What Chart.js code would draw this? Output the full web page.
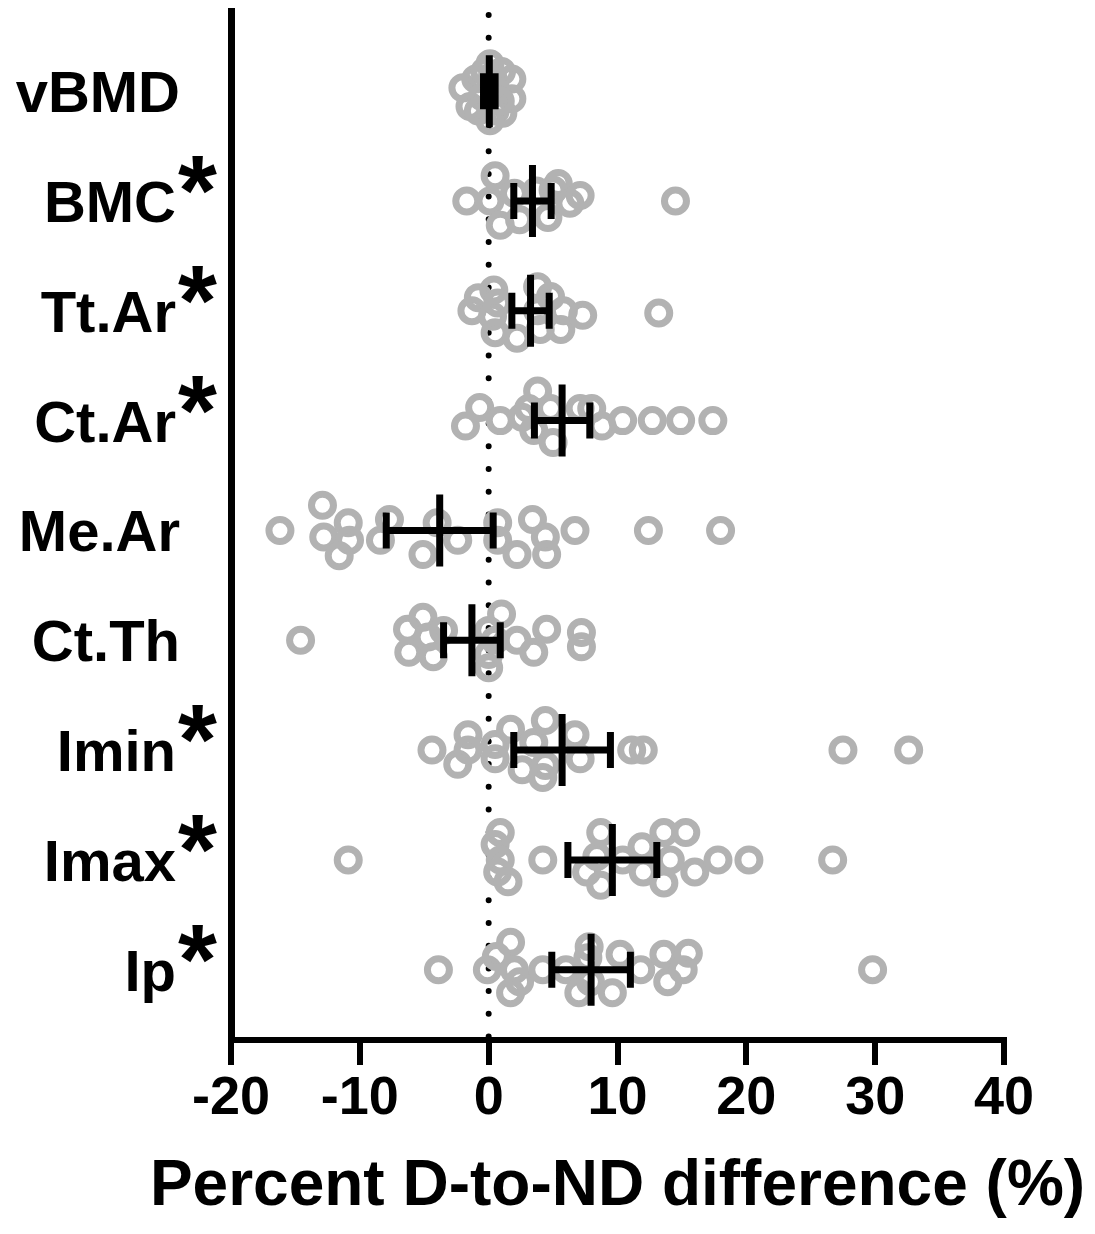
<!DOCTYPE html>
<html>
<head>
<meta charset="utf-8">
<script src="https://cdn.jsdelivr.net/npm/chart.js@4.4.1/dist/chart.umd.min.js"></script>
<style>
  html, body { margin: 0; padding: 0; background: #fff; }
  #wrap { width: 1095px; height: 1234px; }
</style>
</head>
<body>
<div id="wrap"><canvas id="chart"></canvas></div>
<script>
// rows, top to bottom
const categories = ['vBMD', 'BMC', 'Tt.Ar', 'Ct.Ar', 'Me.Ar', 'Ct.Th', 'Imin', 'Imax', 'Ip'];
const starred = [false, true, true, true, false, false, true, true, true];

// mean and error (half-width of bar), %
const means = [0.05, 3.4, 3.25, 5.7, -3.8, -1.3, 5.7, 9.6, 7.95];
const errors = [0.45, 1.45, 1.45, 2.15, 4.15, 2.2, 3.75, 3.45, 3.05];

// individual differences: [value %, swarm offset within the row]
const vBMD = [[-2.0,-0.03],[-1.45,0.14],[-1.0,-0.11],[-0.5,0.05],[0.1,-0.25],[0.3,-0.14],[0.5,0.18],[0.1,0.27],
  [1.0,-0.18],[1.8,-0.11],[1.8,0.07],[1.1,0.2],[-0.8,0.18],[0.6,0],[-0.3,-0.18],[0.9,0.09]];
const BMC = [[-1.7,0],[0.1,0],[0.5,-0.23],[0.9,0.22],[2.4,0.17],[2.0,-0.07],[3.7,-0.09],[5.4,-0.16],[4.6,0.15],
  [5.0,-0.1],[6.3,0.02],[7.1,-0.05],[14.5,0]];
const TtAr = [[-1.3,0],[-0.8,-0.12],[0.3,0.05],[0.4,-0.19],[0.7,-0.07],[0.5,0.2],[2.2,0.25],[3.8,-0.22],[3.8,0],
  [4.8,-0.13],[5.8,0],[5.6,0.17],[4.0,0.17],[7.3,0.04],[13.2,0.02]];
const CtAr = [[-1.8,0.05],[-0.7,-0.12],[0.9,0],[2.6,-0.03],[3.1,-0.11],[3.8,-0.27],[3.5,0.09],[5.0,0.2],[4.8,-0.11],
  [7.1,-0.11],[8.0,-0.11],[8.8,0.05],[10.4,0],[12.7,0],[14.9,0],[17.4,0]];
const MeAr = [[-16.2,0],[-12.9,-0.23],[-12.8,0.06],[-10.9,-0.07],[-10.8,0.09],[-11.6,0.23],[-8.4,0.09],[-7.7,-0.1],
  [-5.1,0.22],[-4.0,-0.07],[-2.4,0.09],[0.7,-0.07],[0.7,0.09],[2.2,0.22],[3.4,-0.1],[4.4,0.06],[4.5,0.22],
  [6.7,0],[12.4,0],[18.0,0]];
const CtTh = [[-14.6,0],[-6.3,-0.1],[-6.2,0.11],[-5.1,-0.21],[-4.7,-0.03],[-4.3,0.15],[-3.5,-0.09],[0.0,-0.09],
  [0.0,0.13],[0.0,0.25],[1.0,-0.24],[0.5,0],[2.2,0],[3.5,0.11],[4.5,-0.1],[7.2,-0.07],[7.2,0.06]];
const Imin = [[-4.4,0],[-2.4,0.13],[-1.6,-0.14],[-1.6,0],[0.5,-0.05],[0.5,0.08],[1.7,-0.19],[2.6,0.18],[3.5,-0.07],
  [4.4,-0.27],[4.4,0.14],[4.2,0.25],[6.7,-0.14],[7.1,0.08],[11.1,0],[12.0,0],[27.5,0],[32.6,0]];
const Imax = [[-10.9,0],[0.9,-0.25],[0.5,-0.14],[0.9,0],[0.7,0.11],[1.5,0.2],[4.2,0],[7.6,0.11],[8.4,-0.03],
  [8.7,-0.25],[8.7,0.23],[10.4,0],[11.9,-0.12],[12.0,0.11],[13.6,-0.25],[13.6,0.21],[14.1,0],[15.3,-0.25],
  [16.0,0.11],[17.8,0],[20.2,0],[26.7,0]];
const Ip = [[-3.9,0],[-0.1,0],[1.7,-0.25],[0.6,-0.12],[2.0,0],[1.7,0.21],[2.4,0.11],[4.2,0],[6.0,0],[7.0,0.21],
  [7.8,-0.21],[7.7,-0.11],[7.9,0.11],[9.6,0.21],[10.2,-0.14],[11.8,0],[13.6,-0.14],[13.9,0.11],[15.1,0],
  [15.5,-0.15],[29.8,0]];

const rows = [vBMD, BMC, TtAr, CtAr, MeAr, CtTh, Imin, Imax, Ip];
const xTicks = [-20, -10, 0, 10, 20, 30, 40];
const xTitle = 'Percent D-to-ND difference (%)';

const FONT = "'Liberation Sans', Arial, Helvetica, sans-serif";
const GREY = '#b2b2b2';

const datasets = rows.map((r, i) => ({
  label: categories[i],
  data: r.map(p => ({ x: p[0], y: i + p[1] })),
  pointRadius: 11,
  pointHoverRadius: 11,
  pointBorderWidth: 7,
  pointBorderColor: GREY,
  pointBackgroundColor: 'rgba(0,0,0,0)'
}));

// dotted zero line, mean +/- error bars, row labels, axis title
const extras = {
  id: 'extras',
  beforeDatasetsDraw(chart) {
    const { ctx, chartArea, scales: { x } } = chart;
    const x0 = x.getPixelForValue(0);
    ctx.save();
    ctx.strokeStyle = '#000';
    ctx.lineWidth = 6;
    ctx.lineCap = 'round';
    ctx.setLineDash([0, 22.7]);
    ctx.beginPath();
    ctx.moveTo(x0, chartArea.top + 4);
    ctx.lineTo(x0, chartArea.bottom);
    ctx.stroke();
    ctx.restore();
  },
  afterDatasetsDraw(chart) {
    const { ctx, scales: { x, y } } = chart;
    ctx.save();
    ctx.strokeStyle = '#000';
    ctx.lineWidth = 7;
    ctx.lineCap = 'butt';
    means.forEach((m, i) => {
      const cy = y.getPixelForValue(i);
      const xm = x.getPixelForValue(m);
      const xl = x.getPixelForValue(m - errors[i]);
      const xr = x.getPixelForValue(m + errors[i]);
      ctx.beginPath();
      ctx.moveTo(xl, cy); ctx.lineTo(xr, cy);
      ctx.moveTo(xl, cy - 18); ctx.lineTo(xl, cy + 18);
      ctx.moveTo(xr, cy - 18); ctx.lineTo(xr, cy + 18);
      ctx.moveTo(xm, cy - 36); ctx.lineTo(xm, cy + 36);
      ctx.stroke();
    });
    ctx.restore();
  },
  afterDraw(chart) {
    const { ctx, chartArea, scales: { y } } = chart;
    ctx.save();
    ctx.fillStyle = '#000';
    categories.forEach((c, i) => {
      const cy = y.getPixelForValue(i);
      ctx.font = 'bold 58px ' + FONT;
      ctx.textAlign = 'right';
      ctx.textBaseline = 'alphabetic';
      ctx.fillText(c, starred[i] ? 176 : 180, cy + 21);
      if (starred[i]) {
        ctx.font = 'bold 100px ' + FONT;
        ctx.textAlign = 'left';
        ctx.fillText('*', 178, cy + 24);
      }
    });
    ctx.font = 'bold 64px ' + FONT;
    ctx.textAlign = 'center';
    ctx.textBaseline = 'alphabetic';
    ctx.fillText(xTitle, (chartArea.left + chartArea.right) / 2, 1205);
    ctx.restore();
  }
};

new Chart(document.getElementById('chart'), {
  type: 'scatter',
  data: { datasets },
  options: {
    responsive: true,
    maintainAspectRatio: false,
    animation: false,
    layout: { autoPadding: false, padding: { top: 11, right: 91, bottom: 0, left: 0 } },
    plugins: { legend: { display: false }, tooltip: { enabled: false } },
    scales: {
      x: {
        type: 'linear',
        min: -20,
        max: 40,
        afterBuildTicks: s => { s.ticks = xTicks.map(v => ({ value: v })); },
        afterFit: s => { s.height = 194; },
        grid: { display: true, drawOnChartArea: false, drawTicks: true, tickLength: 25, lineWidth: 6, color: '#000' },
        border: { display: true, width: 6, color: '#000' },
        ticks: {
          color: '#000',
          padding: 2,
          maxRotation: 0,
          autoSkip: false,
          font: { family: FONT, size: 54, weight: 'bold' }
        }
      },
      y: {
        type: 'linear',
        reverse: true,
        min: -0.73,
        max: 8.64,
        afterBuildTicks: s => { s.ticks = categories.map((c, i) => ({ value: i })); },
        afterFit: s => { s.width = 231; },
        grid: { display: false },
        border: { display: true, width: 7, color: '#000' },
        ticks: { display: false }
      }
    }
  },
  plugins: [extras]
});
</script>
</body>
</html>
